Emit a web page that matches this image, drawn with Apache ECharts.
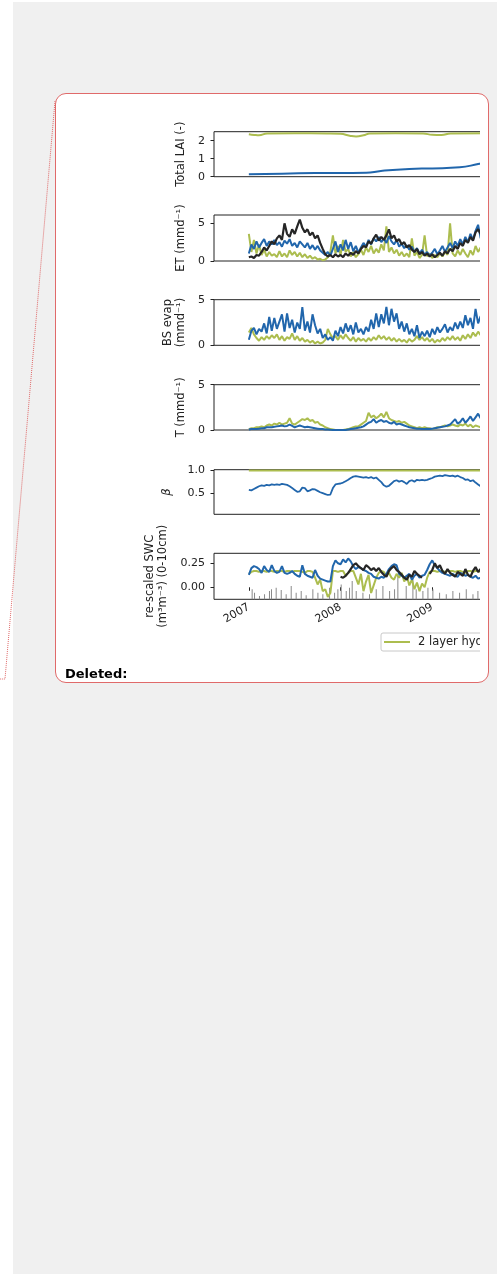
<!DOCTYPE html>
<html><head><meta charset="utf-8">
<script src="https://cdn.jsdelivr.net/npm/echarts@6/dist/echarts.min.js"></script>
<style>
html,body{margin:0;padding:0;background:#fff;width:504px;height:1274px;overflow:hidden;}
#bg{position:absolute;left:13px;top:2px;width:484px;height:1272px;background:#f0f0f0;}
#box{position:absolute;left:55px;top:93px;width:432px;height:588px;border:1px solid #e06a6a;border-radius:11px;background:#fff;}
#clip{position:absolute;left:56px;top:94px;width:424px;height:587px;overflow:hidden;}
#chart{position:absolute;left:-56px;top:-94px;width:600px;height:700px;}
#del{position:absolute;left:65px;top:666px;font:bold 13px 'DejaVu Sans';color:#000;line-height:15px;}
svg{position:absolute;left:0;top:0;}
</style></head>
<body>
<div id="bg"></div>
<svg width="504" height="1274"><polyline points="55,101 5,679 0,679" fill="none" stroke="#e06a6a" stroke-width="1" stroke-dasharray="1,1"/></svg>
<div id="box"></div>
<div id="clip"><div id="chart"></div></div>
<div id="del">Deleted:</div>
<script>
// sampling: every ~10 days starting 2007-01-01 (decimal years)
const T0 = 2007, STEP = 1/36;

// Total LAI (smooth, own time points)
const laiGreenT = [2007.0, 2007.06, 2007.11, 2007.2, 2007.5, 2007.85, 2008.0, 2008.1, 2008.17, 2008.25, 2008.32, 2008.6, 2008.9, 2009.0, 2009.1, 2009.2, 2009.6];
const laiGreen  = [2.36, 2.32, 2.30, 2.40, 2.41, 2.40, 2.38, 2.28, 2.24, 2.30, 2.40, 2.41, 2.40, 2.33, 2.32, 2.40, 2.41];
const laiBlueT  = [2007.0, 2007.36, 2007.72, 2008.28, 2008.44, 2008.75, 2009.0, 2009.3, 2009.5, 2009.6];
const laiBlue   = [0.13, 0.17, 0.20, 0.22, 0.32, 0.43, 0.46, 0.52, 0.70, 0.80];

// ET (mm/d)
const etGreen = [3.6,1.2,2.8,1.0,2.2,0.8,1.5,0.6,1.2,0.7, 0.9,0.5,1.3,0.6,1.0,0.5,1.4,0.8,1.2,0.6,
  1.1,0.5,0.9,0.4,0.7,0.3,0.5,0.2,0.3,0.1, 0.2,0.5,1.2,3.4,1.0,2.0,0.8,2.8,1.2,1.6,
  0.6,1.2,0.5,0.9,1.5,0.8,1.8,1.2,2.0,1.0, 1.6,1.1,2.2,1.4,4.6,1.2,1.8,1.0,1.5,0.7,
  1.2,0.6,1.0,0.5,3.0,0.7,1.2,0.4,0.8,3.4, 0.6,1.0,0.4,0.8,0.5,1.0,0.6,1.2,0.8,5.0,
  1.0,0.6,1.4,0.8,1.6,1.0,0.5,1.4,0.8,2.0, 1.2,1.8,1.0,1.5];
const etBlue = [1.0,2.2,1.6,2.6,1.8,2.4,2.9,2.0,2.6,2.2, 2.8,2.1,2.5,1.9,2.7,2.3,2.9,2.0,2.4,1.8,
  2.6,2.2,1.8,2.4,1.6,2.1,1.5,2.0,1.4,1.1, 0.8,1.2,0.7,1.6,2.6,1.2,2.2,1.4,2.8,1.6,
  2.5,1.3,2.0,1.1,1.8,2.4,1.9,2.8,2.2,3.0, 2.6,3.2,2.5,3.0,2.4,3.3,2.6,2.2,2.8,1.9,
  2.3,1.7,2.1,1.5,1.9,1.2,1.7,1.0,1.5,0.8, 1.2,0.7,1.1,1.6,0.9,1.4,2.0,1.2,1.8,2.4,
  1.7,2.6,2.0,2.9,2.2,3.2,2.5,3.6,2.8,4.0, 4.8,3.0,3.6,3.2];
const etObs = [0.5,0.6,0.4,0.8,0.7,1.2,1.8,1.4,2.0,2.6, 2.2,3.0,3.4,2.8,5.0,3.6,3.2,4.2,3.6,4.6,
  5.5,4.4,3.8,4.2,3.4,3.8,3.0,3.4,2.4,1.6, 0.9,0.6,0.8,0.5,0.9,0.6,0.8,0.5,1.0,0.7,
  1.1,0.8,1.3,1.0,1.6,2.0,1.8,2.6,2.3,3.0, 3.5,2.7,3.2,2.8,3.4,4.2,3.0,3.4,2.6,2.9,
  2.2,2.5,1.8,2.1,1.5,1.2,1.6,0.9,1.2,0.7, 1.0,0.6,0.9,0.5,0.8,1.1,0.7,1.3,1.0,1.6,
  1.3,2.0,1.6,2.4,2.0,2.8,2.4,3.2,2.7,3.8, 4.2,3.6,4.0,3.8];

// Bare soil evaporation (mm/d)
const bsGreen = [1.4,1.9,1.2,0.8,0.5,0.9,0.6,1.0,0.7,1.1, 0.8,1.2,0.6,1.0,0.5,0.9,0.7,1.3,0.6,1.0,
  0.5,0.8,0.4,0.6,0.3,0.5,0.2,0.4,0.2,0.3, 0.6,1.8,1.2,0.8,1.0,0.6,1.1,0.7,1.2,0.8,
  0.5,0.9,0.4,0.8,0.5,0.7,0.4,0.8,0.5,0.9, 0.6,1.1,0.7,1.0,0.6,0.9,0.5,0.8,0.4,0.7,
  0.4,0.6,0.3,0.7,0.4,0.6,1.0,0.6,0.9,0.5, 0.8,0.4,0.7,0.3,0.6,0.4,0.8,0.5,0.9,0.6,
  1.0,0.6,0.9,0.5,1.1,0.7,1.2,0.8,1.4,1.0, 1.5,1.1,1.3,1.2];
const bsBlue = [0.6,1.6,1.9,1.2,1.8,1.5,2.4,1.3,3.1,1.6, 3.0,1.8,2.6,3.4,1.5,3.5,1.9,2.8,1.4,2.5,
  1.8,4.2,1.6,2.6,1.4,3.4,2.2,1.3,1.8,0.8, 1.2,0.6,0.9,0.5,1.6,1.0,2.0,1.3,2.4,1.5,
  2.2,1.2,2.5,1.4,1.8,1.2,2.0,1.5,2.8,1.8, 3.5,2.0,3.4,2.4,4.2,2.2,4.0,2.6,3.5,1.8,
  2.6,1.5,2.4,1.2,1.8,1.0,2.2,0.8,1.5,1.0, 1.6,0.9,1.8,1.2,2.0,1.4,1.8,2.3,1.4,2.0,
  1.6,2.5,1.8,2.6,1.9,3.3,2.2,3.0,1.8,4.0, 2.4,3.2,2.6,3.0];

// Transpiration (mm/d)
const tGreen = [0.1,0.2,0.2,0.3,0.3,0.4,0.3,0.5,0.6,0.5, 0.7,0.6,0.8,0.6,0.7,0.8,1.3,0.7,0.6,0.8,
  1.0,1.2,1.1,1.3,1.0,1.1,0.8,0.9,0.6,0.5, 0.3,0.2,0.1,0.05,0.0,0.0,0.0,0.0,0.05,0.1,
  0.2,0.3,0.4,0.4,0.6,0.8,1.0,1.9,1.4,1.6, 1.3,1.5,1.8,1.4,2.0,1.3,1.1,1.0,0.9,1.0,
  0.8,0.9,0.7,0.5,0.4,0.3,0.2,0.3,0.2,0.3, 0.2,0.2,0.1,0.2,0.3,0.3,0.4,0.5,0.4,0.5,
  0.6,0.5,0.4,0.6,0.5,0.7,0.4,0.6,0.3,0.5, 0.4,0.3,0.5,0.4];
const tBlue = [0.05,0.1,0.1,0.1,0.15,0.2,0.2,0.3,0.3,0.3, 0.35,0.4,0.45,0.5,0.4,0.45,0.6,0.45,0.3,0.4,
  0.5,0.4,0.3,0.35,0.3,0.25,0.2,0.15,0.1,0.1, 0.05,0.05,0.02,0.0,0.0,0.0,0.0,0.0,0.0,0.05,
  0.1,0.15,0.2,0.25,0.3,0.4,0.6,0.8,0.9,1.2, 0.8,1.0,1.1,0.9,1.0,0.8,0.7,0.9,0.6,0.7,
  0.6,0.5,0.4,0.3,0.25,0.2,0.15,0.15,0.1,0.1, 0.15,0.1,0.15,0.2,0.25,0.3,0.35,0.4,0.5,0.6,
  0.9,1.2,0.7,0.9,1.3,0.8,1.1,1.5,1.0,1.4, 1.8,1.3,1.6,1.5];

// Beta
const betaGreenT = [2007.0, 2009.6];
const betaGreen  = [1.0, 1.0];
const betaBlue = [0.58,0.57,0.60,0.63,0.66,0.68,0.67,0.69,0.68,0.70, 0.69,0.70,0.69,0.71,0.70,0.69,0.66,0.62,0.58,0.54,
  0.55,0.63,0.62,0.55,0.57,0.60,0.59,0.56,0.53,0.51, 0.49,0.47,0.48,0.62,0.70,0.71,0.72,0.74,0.77,0.80,
  0.84,0.87,0.88,0.87,0.86,0.85,0.86,0.84,0.86,0.83, 0.85,0.80,0.75,0.68,0.65,0.67,0.72,0.77,0.79,0.76,
  0.78,0.75,0.71,0.77,0.79,0.76,0.80,0.79,0.80,0.79, 0.80,0.82,0.84,0.87,0.88,0.89,0.88,0.90,0.89,0.88,
  0.89,0.87,0.89,0.86,0.84,0.80,0.81,0.77,0.79,0.74, 0.70,0.66,0.68,0.65];

// Re-scaled SWC (0-10cm)
const swcGreen = [0.14,0.16,0.17,0.17,0.16,0.17,0.17,0.16,0.17,0.17, 0.16,0.17,0.17,0.17,0.16,0.17,0.17,0.16,0.17,0.17,
  0.17,0.16,0.15,0.17,0.17,0.16,0.10,0.03,0.08,-0.04, -0.02,-0.10,-0.06,0.17,0.17,0.16,0.17,0.17,0.12,0.15,
  0.17,0.17,0.10,0.03,0.14,-0.04,0.06,0.13,-0.06,0.02, 0.10,0.15,0.17,0.16,0.12,0.15,0.10,0.08,0.14,0.10,
  0.15,0.06,0.12,0.02,0.08,-0.02,0.05,-0.04,0.04,0.0, 0.10,0.16,0.17,0.17,0.16,0.17,0.17,0.16,0.17,0.17,
  0.17,0.16,0.17,0.17,0.16,0.15,0.17,0.17,0.16,0.17, 0.17,0.16,0.17,0.17];
const swcBlue = [0.13,0.20,0.22,0.21,0.19,0.15,0.22,0.18,0.16,0.23, 0.17,0.15,0.16,0.22,0.15,0.14,0.15,0.17,0.14,0.12,
  0.11,0.23,0.14,0.12,0.11,0.10,0.18,0.12,0.09,0.08, 0.07,0.06,0.06,0.22,0.28,0.25,0.24,0.29,0.26,0.30,
  0.27,0.22,0.19,0.21,0.20,0.18,0.17,0.15,0.14,0.11, 0.10,0.09,0.11,0.10,0.14,0.19,0.22,0.24,0.23,0.14,
  0.12,0.10,0.12,0.14,0.08,0.12,0.14,0.10,0.12,0.13, 0.18,0.24,0.28,0.23,0.20,0.17,0.15,0.14,0.13,0.12,
  0.14,0.12,0.11,0.15,0.14,0.12,0.13,0.11,0.10,0.12, 0.09,0.10,0.11,0.10];
const swcObs = [null,null,null,null,null,null,null,null,null,null, null,null,null,null,null,null,null,null,null,null,
  null,null,null,null,null,null,null,null,null,null, null,null,null,null,null,null,0.11,0.10,0.12,0.15,
  0.19,0.23,0.25,0.22,0.20,0.18,0.23,0.21,0.18,0.20, 0.17,0.20,0.16,0.13,0.11,0.17,0.20,0.22,0.18,0.16,
  0.13,0.10,0.08,0.13,0.11,0.17,0.14,0.12,0.10,null, null,0.14,0.18,0.25,0.20,0.23,0.17,0.14,0.19,0.15,
  0.13,0.11,0.16,0.14,0.12,0.19,0.13,0.11,0.17,0.21, 0.16,0.19,0.15,0.17];
// precipitation (grey bars, arbitrary mm scale)
const rainT = [2007.036,2007.062,2007.116,2007.171,2007.225,2007.247,2007.298,2007.353,2007.407,2007.462,2007.516,2007.571,2007.625,2007.698,2007.753,2007.807,2007.880,2007.935,2007.971,2008.007,2008.062,2008.098,2008.127,2008.171,2008.244,2008.316,2008.389,2008.462,2008.535,2008.589,2008.625,2008.716,2008.789,2008.825,2008.898,2008.953,2009.007,2009.080,2009.153,2009.225,2009.298,2009.371,2009.444,2009.498];
const rain  = [22,14,7,11,18,22,25,20,11,29,14,18,9,22,14,11,25,14,22,32,18,25,40,18,14,11,22,29,18,22,54,29,47,22,18,25,22,14,11,18,14,22,11,18];

const yearTicks = [2007, 2008, 2009];
const F = 'DejaVu Sans';
const GREEN = '#acbd4f', BLUE = '#2166ac', BLACK = '#262626';
const TICK_FS = 11, NAME_FS = 11.5;

function reg(vals){ return vals.map((v,i)=>[T0+i*STEP, v==null?'-':v]); }
function zip(t,v){ return t.map((x,i)=>[x,v[i]]); }

const grids = [[131.7,45],[215,46],[299.7,45.6],[384.7,45.3],[469.7,44.6],[553.3,46]];
const XMIN = 2006.62, XMAX = 2009.957, LEFT = 214, RIGHT_X = 520;

const option = {
  animation:false,
  grid: grids.map(g=>({left:LEFT, width:RIGHT_X-LEFT, top:g[0], height:g[1], show:true, borderColor:'#222', borderWidth:1, backgroundColor:'transparent'})),
  xAxis: grids.map((g,k)=>({type:'value', gridIndex:k, min:XMIN, max:XMAX,
    axisLine:{show:false}, splitLine:{show:false},
    axisTick:{show:k===5, length:3.5, lineStyle:{color:'#222'}, customValues:yearTicks},
    axisLabel:{show:k===5, customValues:yearTicks, rotate:30, margin:7, fontSize:TICK_FS, color:'#222', fontFamily:F, formatter:v=>String(Math.round(v))}})),
  yAxis: [],
  legend:{data:['2 layer hydrology'], left:381, top:633, icon:'rect', itemWidth:26, itemHeight:2, itemGap:10,
    padding:[3,6,3,3], borderColor:'#c8c8c8', borderWidth:1, borderRadius:2, backgroundColor:'#fff',
    textStyle:{fontSize:11.5, color:'#222', fontFamily:F, padding:[0,0,0,3]}},
  series: []
};
function yAx(gi,min,max,ticks,fmt,name,gap,italic){
  return {type:'value', gridIndex:gi, min:min, max:max, name:name, nameLocation:'middle', nameGap:gap, nameRotate:90,
    nameTextStyle:{fontSize:NAME_FS, color:'#222', fontFamily:F, fontStyle:italic?'italic':'normal', lineHeight:13},
    axisLine:{show:false}, splitLine:{show:false},
    axisTick:{show:true, length:3.5, lineStyle:{color:'#222'}, customValues:ticks},
    axisLabel:{fontSize:TICK_FS, color:'#222', fontFamily:F, margin:9, customValues:ticks, formatter:fmt}};
}
option.yAxis.push(yAx(0,0,2.5,[0,1,2],v=>String(v),'Total LAI (-)',21));
option.yAxis.push(yAx(1,0,6.1,[0,5],v=>String(v),'ET (mmd\u207B\u00B9)',21));
option.yAxis.push(yAx(2,0,5,[0,5],v=>String(v),'BS evap\n(mmd\u207B\u00B9)',24));
option.yAxis.push(yAx(3,0,5,[0,5],v=>String(v),'T (mmd\u207B\u00B9)',21));
option.yAxis.push(yAx(4,0.05,1.02,[0.5,1.0],v=>v.toFixed(1),'\u03B2',40,true));
option.yAxis.push(yAx(5,-0.125,0.354,[0,0.25],v=>v.toFixed(2),'re-scaled SWC\n(m\u00B3m\u207B\u00B3) (0-10cm)',42));
option.yAxis.push({type:'value', gridIndex:5, min:0, max:100, show:false});

function line(name,k,data,color,w,z){
  return {type:'line', name:name, xAxisIndex:k, yAxisIndex:k, data:data, showSymbol:false, symbol:'none',
    lineStyle:{color:color, width:w}, itemStyle:{color:color}, z:z};
}
const G='2 layer hydrology', B='multi-layer hydrology', O='observations';
option.series.push(Object.assign(line(G,0,zip(laiGreenT,laiGreen),GREEN,2,2),{smooth:true}));
option.series.push(Object.assign(line(B,0,zip(laiBlueT,laiBlue),BLUE,2,3),{smooth:true}));
option.series.push(line(G,1,reg(etGreen),GREEN,2,2));
option.series.push(line(B,1,reg(etBlue),BLUE,2,3));
option.series.push(line(O,1,reg(etObs),BLACK,2.2,4));
option.series.push(line(G,2,reg(bsGreen),GREEN,2,2));
option.series.push(line(B,2,reg(bsBlue),BLUE,2,3));
option.series.push(line(G,3,reg(tGreen),GREEN,2,2));
option.series.push(line(B,3,reg(tBlue),BLUE,2,3));
option.series.push(line(G,4,zip(betaGreenT,betaGreen),GREEN,2,2));
option.series.push(line(B,4,reg(betaBlue),BLUE,1.8,3));
option.series.push({type:'bar', name:'precipitation', xAxisIndex:5, yAxisIndex:6, data:zip(rainT,rain), barWidth:1, itemStyle:{color:'#8a8a8a'}, z:1});
option.series.push(line(G,5,reg(swcGreen),GREEN,2,2));
option.series.push(line(B,5,reg(swcBlue),BLUE,2,3));
option.series.push(line(O,5,reg(swcObs),BLACK,2.2,4));

const chart = echarts.init(document.getElementById('chart'), null, {renderer:'canvas'});
chart.setOption(option);
</script>
</body></html>
